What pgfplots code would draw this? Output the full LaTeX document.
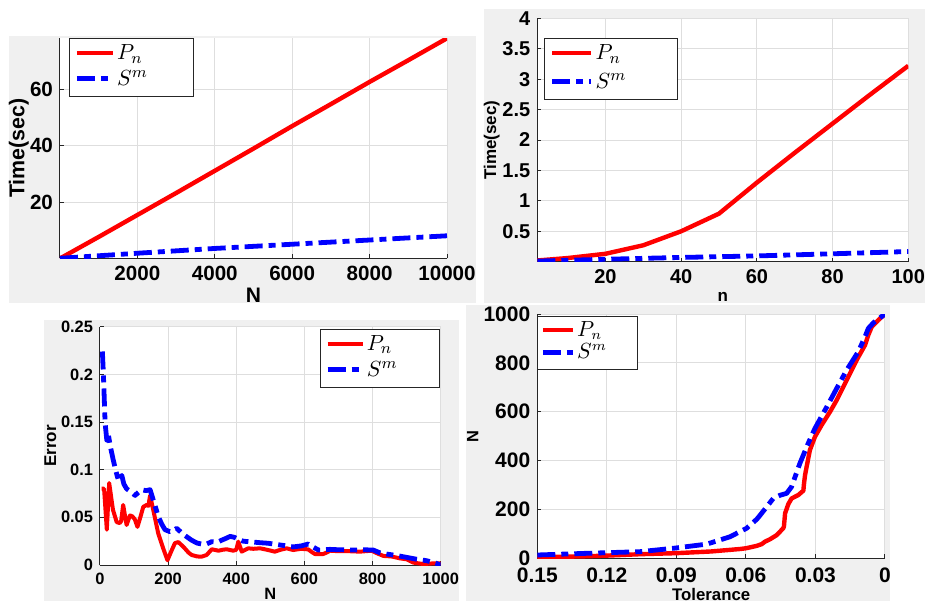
\documentclass[border=0pt]{standalone}
\usepackage{pgfplots}
\pgfplotsset{compat=1.18}
\usepackage{fontspec}
\setmainfont{Liberation Sans}
\definecolor{figbg}{RGB}{240,240,240}
\definecolor{gridc}{RGB}{222,222,222}
\definecolor{axc}{RGB}{38,38,38}
\pgfplotsset{
  matlab/.style={
    scale only axis,
    scaled ticks=false,
    axis x line*=bottom, axis y line*=left,
    axis line style={-, draw=axc, line width=0.5pt},
    axis background/.style={fill=white},
    grid=major,
    major grid style={draw=gridc, line width=0.5pt},
    tick align=inside,
    major tick length=2pt,
    tick style={draw=axc, line width=0.5pt},
    legend cell align=left,
    xticklabel style={yshift=-0.6pt},
  },
  pn/.style={red, line width=2.2pt, line join=round},
  sm/.style={blue, line width=2.4pt, line join=round, dash pattern=on 9pt off 3pt on 3.5pt off 3pt},
}
\begin{document}
\begin{tikzpicture}
\path[use as bounding box] (0,0) rectangle (464pt,300.5pt);
\fill[figbg] (4.5pt,149pt) rectangle (238pt,282.5pt);
\fill[figbg] (242pt,149pt) rectangle (462.5pt,296pt);
\fill[figbg] (22pt,0pt) rectangle (229.5pt,140.5pt);
\fill[figbg] (233pt,0pt) rectangle (445pt,148pt);

% ---------- Panel 1 ----------
\begin{axis}[matlab,
  at={(30pt,171.35pt)}, anchor=south west,
  width=193.5pt, height=110.15pt,
  xmin=0, xmax=10000, ymin=0, ymax=78.3,
  xtick={2000,4000,6000,8000,10000},
  xticklabels={2000,4000,6000,8000,10000},
  ytick={20,40,60}, yticklabels={20,40,60},
  tick label style={font=\fontsize{10.3}{12}\selectfont\bfseries},
  xlabel={N},
  xlabel style={at={(axis description cs:0.5,0)}, anchor=north, inner sep=0pt, yshift=-14.5pt, font=\fontsize{10.5}{12}\selectfont\bfseries},
  ylabel={Time(sec)},
  ylabel style={at={(axis description cs:-0.0922,0.5)}, anchor=base, inner sep=0pt, font=\fontsize{10.7}{12}\selectfont\bfseries},
  legend style={at={(0.023,0.999)}, anchor=north west, draw=axc, line width=0.5pt, fill=white,
    inner xsep=2.5pt, inner ysep=2.5pt, row sep=1.7pt, column sep=1pt,
    nodes={inner sep=0pt, anchor=base west, text height=8pt, text depth=3pt, font=\fontsize{11}{13}\selectfont}},
  legend image code/.code={\draw[#1] (0pt,3.5pt) -- (18pt,3.5pt);},
]
\addplot[pn] coordinates {(0,0) (100,0.7) (1000,7.6) (2000,15.4) (3000,23.2) (4000,31.1) (5000,39) (6000,47) (7000,54.8) (8000,62.7) (9000,70.4) (10000,78.2)};
\addlegendentry{\makebox[35.6pt][l]{$P_n$}}
\addplot[sm] coordinates {(0,0) (2000,1.8) (4000,3.5) (6000,5.0) (8000,6.5) (10000,8.0)};
\addlegendentry{\makebox[35.6pt][l]{$S^m$}}
\end{axis}

% ---------- Panel 2 ----------
\begin{axis}[matlab,
  at={(268.65pt,169.65pt)}, anchor=south west,
  width=185.5pt, height=121.7pt,
  xmin=2, xmax=100, ymin=0, ymax=4,
  xtick={20,40,60,80,100}, xticklabels={20,40,60,80,100},
  ytick={0.5,1,1.5,2,2.5,3,3.5,4}, yticklabels={0.5,1,1.5,2,2.5,3,3.5,4},
  tick label style={font=\fontsize{10}{12}\selectfont\bfseries},
  xlabel={n},
  xlabel style={at={(axis description cs:0.5,0)}, anchor=north, inner sep=0pt, yshift=-15.3pt, font=\fontsize{8.5}{10}\selectfont\bfseries},
  ylabel={Time(sec)},
  ylabel style={at={(axis description cs:-0.1108,0.5)}, anchor=base, inner sep=0pt, font=\fontsize{8.5}{10}\selectfont\bfseries},
  legend style={at={(0.0189,0.918)}, anchor=north west, draw=axc, line width=0.5pt, fill=white,
    inner xsep=2.5pt, inner ysep=2.5pt, row sep=3.3pt, column sep=1pt,
    nodes={inner sep=0pt, anchor=base west, text height=8pt, text depth=3pt, font=\fontsize{11}{13}\selectfont}},
  legend image code/.code={\draw[#1] (0pt,3.5pt) -- (19.5pt,3.5pt);},
]
\addplot[pn] coordinates {(2,0.02) (10,0.06) (20,0.13) (30,0.27) (40,0.5) (50,0.79) (60,1.3) (70,1.79) (80,2.27) (90,2.75) (100,3.22)};
\addlegendentry{\makebox[38.5pt][l]{$P_n$}}
\addplot[sm] coordinates {(2,0.01) (20,0.04) (40,0.07) (60,0.095) (80,0.13) (100,0.167)};
\addlegendentry{\makebox[38.5pt][l]{$S^m$}}
\end{axis}

% ---------- Panel 3 ----------
\begin{axis}[matlab,
  at={(50pt,18pt)}, anchor=south west,
  width=170.35pt, height=119.15pt,
  xmin=0, xmax=1000, ymin=0, ymax=0.25,
  xtick={0,200,400,600,800,1000}, xticklabels={0,200,400,600,800,1000},
  ytick={0,0.05,0.1,0.15,0.2,0.25}, yticklabels={0,0.05,0.1,0.15,0.2,0.25},
  tick label style={font=\fontsize{8.2}{10}\selectfont\bfseries},
  xlabel={N},
  xlabel style={at={(axis description cs:0.5,0)}, anchor=north, inner sep=0pt, yshift=-11.65pt, font=\fontsize{8.2}{10}\selectfont\bfseries},
  ylabel={Error},
  ylabel style={at={(axis description cs:-0.1286,0.5)}, anchor=base, inner sep=0pt, font=\fontsize{8.5}{10}\selectfont\bfseries},
  legend style={at={(0.998,0.990)}, anchor=north east, draw=axc, line width=0.5pt, fill=white,
    inner xsep=2.2pt, inner ysep=2.5pt, row sep=2pt, column sep=1pt,
    nodes={inner sep=0pt, anchor=base west, text height=8pt, text depth=3pt, font=\fontsize{11}{13}\selectfont}},
  legend image code/.code={\draw[#1] (0pt,3.5pt) -- (17.5pt,3.5pt);},
]
\addplot[pn, line width=2pt] coordinates {(5,0.080) (12,0.080) (20,0.037) (27,0.086) (38,0.058) (49,0.045) (58,0.044) (62,0.046) (68,0.063) (78,0.042) (88,0.052) (95,0.051) (102,0.048) (110,0.040) (120,0.052) (127,0.061) (137,0.063) (142,0.062) (147,0.073) (155,0.060) (171,0.033) (185,0.018) (198,0.005) (210,0.015) (220,0.023) (230,0.024) (245,0.019) (260,0.013) (269,0.0105) (285,0.009) (298,0.0087) (313,0.0105) (328,0.0165) (348,0.015) (360,0.016) (372,0.0165) (391,0.015) (400,0.016) (406,0.0245) (416,0.014) (435,0.0175) (450,0.017) (470,0.0175) (490,0.016) (513,0.014) (530,0.016) (548,0.0175) (567,0.0157) (590,0.017) (611,0.0164) (620,0.014) (631,0.0115) (655,0.0115) (665,0.013) (675,0.015) (700,0.0145) (730,0.0145) (763,0.014) (797,0.015) (815,0.012) (832,0.0095) (855,0.009) (880,0.007) (900,0.006) (920,0.0025) (949,0.001) (978,0.0017) (1000,0.0017)};
\addlegendentry{\makebox[34.1pt][l]{$P_n$}}
\addplot[sm] coordinates {(7,0.224) (10,0.20) (15,0.149) (20,0.131) (24,0.138) (30,0.125) (39,0.110) (47,0.098) (54,0.089) (64,0.094) (70,0.085) (78,0.080) (90,0.077) (103,0.073) (112,0.076) (122,0.079) (135,0.078) (147,0.079) (160,0.064) (171,0.051) (181,0.043) (191,0.037) (205,0.035) (215,0.036) (225,0.0385) (245,0.032) (269,0.026) (285,0.023) (298,0.022) (313,0.022) (328,0.0245) (345,0.024) (357,0.026) (370,0.028) (382,0.030) (395,0.029) (406,0.027) (420,0.025) (435,0.0245) (470,0.0234) (494,0.0228) (528,0.021) (550,0.020) (567,0.019) (590,0.020) (611,0.022) (625,0.019) (641,0.0157) (660,0.016) (675,0.0164) (700,0.016) (743,0.0157) (770,0.016) (802,0.0157) (820,0.013) (841,0.0115) (870,0.010) (900,0.008) (930,0.006) (959,0.0045) (985,0.002) (1000,0.0)};
\addlegendentry{\makebox[34.1pt][l]{$S^m$}}
\end{axis}

% ---------- Panel 4 ----------
\begin{axis}[matlab,
  at={(268.65pt,21.35pt)}, anchor=south west,
  width=173.85pt, height=122.15pt,
  x dir=reverse,
  xmin=0, xmax=0.15, ymin=0, ymax=1000,
  xtick={0,0.03,0.06,0.09,0.12,0.15}, xticklabels={0,0.03,0.06,0.09,0.12,0.15},
  ytick={0,200,400,600,800,1000}, yticklabels={0,200,400,600,800,1000},
  tick label style={font=\fontsize{10.5}{12}\selectfont\bfseries},
  xticklabel style={yshift=-0.6pt},
  yticklabel style={inner ysep=0pt},
  xlabel={Tolerance},
  xlabel style={at={(axis description cs:0.5,0)}, anchor=north, inner sep=0pt, yshift=-14.6pt, font=\fontsize{8.4}{10}\selectfont\bfseries},
  ylabel={N},
  ylabel style={at={(axis description cs:-0.1697,0.5)}, anchor=base, inner sep=0pt, font=\fontsize{8.2}{10}\selectfont\bfseries},
  legend style={at={(0,0.992)}, anchor=north west, draw=axc, line width=0.5pt, fill=white,
    inner xsep=1.3pt, inner ysep=2.5pt, row sep=0.7pt, column sep=1pt,
    nodes={inner sep=0pt, anchor=base west, text height=7.5pt, text depth=3pt, font=\fontsize{10.5}{12}\selectfont}},
  legend image code/.code={\draw[#1] (0pt,3.3pt) -- (15pt,3.3pt);},
]
\addplot[pn] coordinates {(0.15,4) (0.13,8) (0.12,11) (0.105,17) (0.09,21) (0.075,28) (0.0626,38) (0.06,41) (0.0553,51) (0.0532,58) (0.0518,68) (0.0496,78) (0.0467,95) (0.0439,123) (0.0436,130) (0.0431,184) (0.0417,222) (0.0403,245) (0.0374,259) (0.0352,277) (0.035,300) (0.0345,340) (0.0338,375) (0.0324,443) (0.0302,498) (0.0273,546) (0.0237,600) (0.0208,648) (0.0165,730) (0.0122,812) (0.0086,873) (0.0072,914) (0.0057,948) (0.0029,975) (0,1000)};
\addlegendentry{\makebox[28.7pt][l]{$P_n$}}
\addplot[sm] coordinates {(0.15,13.5) (0.13,20) (0.12,23) (0.1058,27) (0.0913,41) (0.0769,58) (0.0669,88) (0.0597,123) (0.0553,160) (0.054,175) (0.0482,245) (0.0453,258) (0.0424,266) (0.0403,293) (0.0367,389) (0.0331,471) (0.0302,532) (0.0251,620) (0.0208,696) (0.0165,771) (0.0115,846) (0.0086,907) (0.0072,941) (0.005,964) (0,1000)};
\addlegendentry{\makebox[28.7pt][l]{$S^m$}}
\end{axis}
\end{tikzpicture}
\end{document}
